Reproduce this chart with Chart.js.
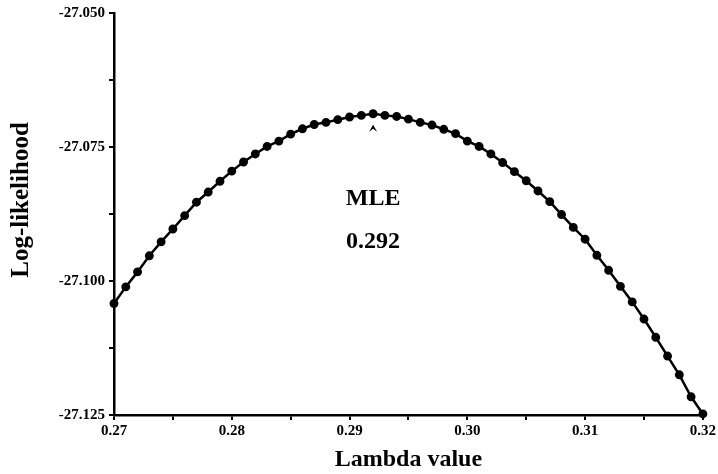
<!DOCTYPE html>
<html>
<head>
<meta charset="utf-8">
<script src="https://cdn.jsdelivr.net/npm/chart.js@4.4.1/dist/chart.umd.min.js"></script>
<style>
  html, body { margin: 0; padding: 0; background: #fff; }
  #wrap { width: 718px; height: 474px; }
</style>
</head>
<body>
<div id="wrap"><canvas id="myChart" width="718" height="474"></canvas></div>
<script>
// lambda values, one point every 0.001
const lambdaValues = [
    0.270, 0.271, 0.272, 0.273, 0.274, 0.275, 0.276, 0.277, 0.278, 0.279,
    0.280, 0.281, 0.282, 0.283, 0.284, 0.285, 0.286, 0.287, 0.288, 0.289,
    0.290, 0.291, 0.292, 0.293, 0.294, 0.295, 0.296, 0.297, 0.298, 0.299,
    0.300, 0.301, 0.302, 0.303, 0.304, 0.305, 0.306, 0.307, 0.308, 0.309,
    0.310, 0.311, 0.312, 0.313, 0.314, 0.315, 0.316, 0.317, 0.318, 0.319,
    0.320
];
const logLikelihood = [
    -27.1042, -27.1011, -27.0983, -27.0953, -27.0927, -27.0903, -27.0878, -27.0853, -27.0834, -27.0814,
    -27.0795, -27.0778, -27.0763, -27.0749, -27.0739, -27.0726, -27.0716, -27.0708, -27.0704, -27.0699,
    -27.0694, -27.0691, -27.0688, -27.0691, -27.0693, -27.0698, -27.0704, -27.0709, -27.0717, -27.0725,
    -27.0739, -27.0749, -27.0763, -27.0779, -27.0796, -27.0813, -27.0832, -27.0852, -27.0876, -27.0900,
    -27.0922, -27.0952, -27.0980, -27.1010, -27.1039, -27.1071, -27.1105, -27.1140, -27.1175, -27.1216,
    -27.1248
];
const xLabelTicks = [0.27, 0.28, 0.29, 0.30, 0.31, 0.32];
const yLabelTicks = [-27.125, -27.100, -27.075, -27.050];
const mleValue = 0.292;
const mleLogLik = -27.0688;

const FONT = '"Liberation Serif", "Times New Roman", serif';

function near(v, list) {
    for (var i = 0; i < list.length; i++) {
        if (Math.abs(v - list[i]) < 1e-7) return true;
    }
    return false;
}

const points = lambdaValues.map(function (x, i) {
    return {x: x, y: logLikelihood[i]};
});

// axis titles, the MLE note and the little arrow under the peak
const annotate = {
    id: 'annotate',
    afterDraw: function (chart) {
        const ctx = chart.ctx;
        const xs = chart.scales.x;
        const ys = chart.scales.y;
        ctx.save();
        ctx.fillStyle = '#000';
        ctx.textAlign = 'center';
        ctx.textBaseline = 'middle';

        ctx.font = 'bold 24px ' + FONT;
        ctx.fillText('Lambda value', (xs.left + xs.right) / 2, 460);

        ctx.save();
        ctx.translate(22, 200);
        ctx.rotate(-Math.PI / 2);
        ctx.font = 'bold 25px ' + FONT;
        ctx.fillText('Log-likelihood', 0, 0);
        ctx.restore();

        const px = xs.getPixelForValue(mleValue);
        ctx.font = 'bold 24px ' + FONT;
        ctx.fillText('MLE', px, 199);
        ctx.fillText(mleValue.toFixed(3), px, 242);

        const py = ys.getPixelForValue(mleLogLik) + 11;
        ctx.beginPath();
        ctx.moveTo(px, py);
        ctx.lineTo(px + 4, py + 7);
        ctx.lineTo(px, py + 4);
        ctx.lineTo(px - 4, py + 7);
        ctx.closePath();
        ctx.fill();
        ctx.restore();
    }
};

new Chart(document.getElementById('myChart'), {
    type: 'scatter',
    data: {
        datasets: [{
            data: points,
            showLine: true,
            borderColor: '#000',
            borderWidth: 2.5,
            backgroundColor: '#000',
            pointRadius: 3.2,
            pointHoverRadius: 3.2,
            clip: false
        }]
    },
    options: {
        responsive: false,
        animation: false,
        layout: {padding: {top: 13, right: 15, left: 0, bottom: 0}},
        plugins: {
            legend: {display: false},
            tooltip: {enabled: false}
        },
        scales: {
            x: {
                type: 'linear',
                min: 0.27,
                max: 0.32,
                ticks: {
                    stepSize: 0.005,
                    autoSkip: false,
                    maxRotation: 0,
                    padding: 2,
                    color: '#000',
                    font: {family: FONT, size: 15, weight: 'bold'},
                    callback: function (v) {
                        return near(v, xLabelTicks) ? v.toFixed(2) : '';
                    }
                },
                grid: {display: true, drawOnChartArea: false, drawTicks: true, tickLength: 5, color: '#000', lineWidth: 2},
                border: {display: true, color: '#000', width: 2.5},
                afterFit: function (scale) { scale.height = 59; }
            },
            y: {
                type: 'linear',
                min: -27.125,
                max: -27.050,
                ticks: {
                    stepSize: 0.0125,
                    autoSkip: false,
                    padding: 4,
                    color: '#000',
                    font: {family: FONT, size: 15, weight: 'bold'},
                    callback: function (v) {
                        return near(v, yLabelTicks) ? v.toFixed(3) : '';
                    }
                },
                grid: {display: true, drawOnChartArea: false, drawTicks: true, tickLength: 5, color: '#000', lineWidth: 2},
                border: {display: true, color: '#000', width: 2.5},
                afterFit: function (scale) { scale.width = 114; }
            }
        }
    },
    plugins: [annotate]
});
</script>
</body>
</html>
